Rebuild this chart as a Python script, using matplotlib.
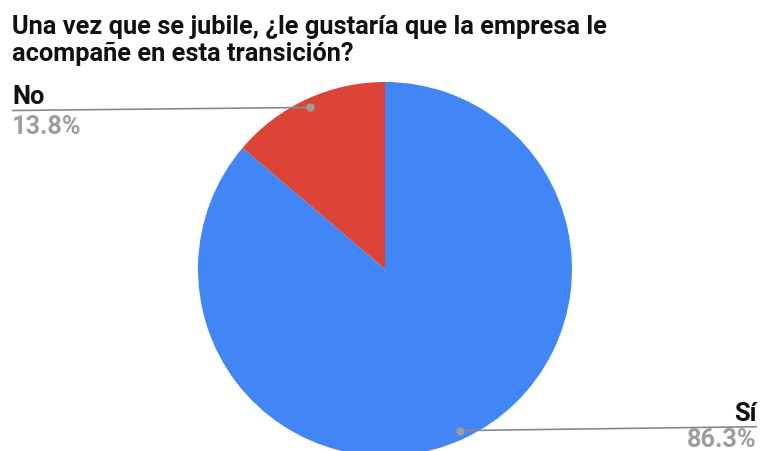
import matplotlib
matplotlib.use("Agg")
import matplotlib.pyplot as plt
import numpy as np

plt.rcParams['font.family'] = ['Roboto', 'DejaVu Sans']

title_lines = ["Una vez que se jubile, ¿le gustaría que la empresa le",
               "acompañe en esta transición?"]
labels = ["Sí", "No"]
values = [86.3, 13.8]
colors = ["#4285f4", "#db4437"]

W, H = 763, 452
FS = 18.3
fig = plt.figure(figsize=(W / 100, H / 100), dpi=100)
ax = fig.add_axes([0, 0, 1, 1])

cx, cy, R = 385, H - 270, 187
wedges, _ = ax.pie(values, colors=colors, startangle=90, counterclock=False,
                   center=(cx, cy), radius=R,
                   wedgeprops=dict(linewidth=0, antialiased=True))
ax.set_xlim(0, W)
ax.set_ylim(0, H)
ax.set_aspect('equal')
ax.axis('off')

# Leader lines and labels from each wedge's mid-angle
total = sum(values)
start = 90.0
label_pos = {
    "Sí": dict(x=757, ha='right', line_y=H - 427.7, name_y=H - 421.5, pct_y=H - 447.5),
    "No": dict(x=12, ha='left', line_y=H - 111.5, name_y=H - 103.5, pct_y=H - 133.5),
}
for lab, val in zip(labels, values):
    sweep = val / total * 360
    mid = np.deg2rad(start - sweep / 2)
    start -= sweep
    r = 0.952 * R
    dx, dy = cx + r * np.cos(mid), cy + r * np.sin(mid)
    p = label_pos[lab]
    ax.plot([dx, p['x']], [dy, p['line_y']], color="#8a8a8a", lw=1.2,
            solid_capstyle='butt', zorder=3)
    ax.plot(dx, dy, 'o', color="#9e9e9e", ms=5, zorder=4)
    ax.text(p['x'], p['name_y'], lab, ha=p['ha'], va='baseline',
            fontsize=FS, fontweight='bold', color="#111111")
    ax.text(p['x'], p['pct_y'], f"{val:.1f}%", ha=p['ha'], va='baseline',
            fontsize=FS, fontweight='bold', color="#9e9e9e")

for i, line in enumerate(title_lines):
    ax.text(12, H - (34.3 + 26.7 * i), line, ha='left', va='baseline',
            fontsize=FS, fontweight='bold', color="#111111")

fig.savefig("out.png", dpi=100)
